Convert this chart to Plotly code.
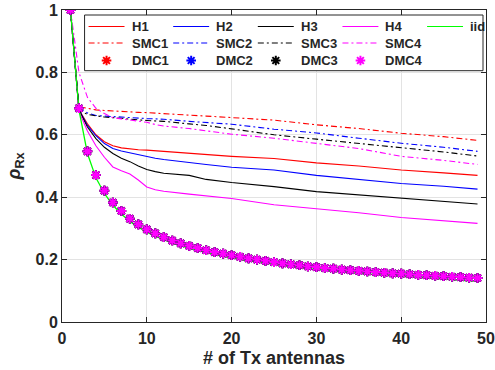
import plotly.graph_objects as go

# ---------------- data ----------------
N_TX = list(range(1, 50))
N_LINE = [1, 2, 3, 4, 5, 6, 7, 8, 9, 10, 11, 12, 15, 17, 20, 25, 30, 35, 40, 45, 49]

H1 = [1.0, 0.68, 0.635, 0.600, 0.578, 0.565, 0.558, 0.554, 0.552, 0.551, 0.549, 0.546, 0.540, 0.536, 0.531, 0.524, 0.510, 0.500, 0.487, 0.478, 0.470]
H2 = [1.0, 0.68, 0.630, 0.597, 0.572, 0.556, 0.548, 0.542, 0.536, 0.530, 0.525, 0.521, 0.510, 0.505, 0.496, 0.487, 0.470, 0.456, 0.444, 0.435, 0.426]
H3 = [1.0, 0.68, 0.625, 0.588, 0.560, 0.540, 0.525, 0.514, 0.500, 0.489, 0.482, 0.477, 0.470, 0.457, 0.447, 0.434, 0.418, 0.408, 0.396, 0.387, 0.378]
H4 = [1.0, 0.675, 0.612, 0.565, 0.528, 0.497, 0.485, 0.474, 0.455, 0.433, 0.424, 0.419, 0.410, 0.405, 0.396, 0.376, 0.364, 0.350, 0.335, 0.325, 0.316]

SMC1 = [1.0, 0.69, 0.685, 0.680, 0.678, 0.676, 0.675, 0.673, 0.672, 0.671, 0.669, 0.667, 0.663, 0.660, 0.656, 0.647, 0.632, 0.620, 0.605, 0.594, 0.582]
SMC2 = [1.0, 0.685, 0.670, 0.662, 0.660, 0.658, 0.657, 0.655, 0.653, 0.652, 0.651, 0.650, 0.643, 0.640, 0.634, 0.618, 0.606, 0.589, 0.573, 0.560, 0.547]
SMC3 = [1.0, 0.68, 0.665, 0.660, 0.657, 0.655, 0.652, 0.650, 0.648, 0.646, 0.645, 0.643, 0.635, 0.630, 0.619, 0.600, 0.586, 0.573, 0.558, 0.545, 0.532]
SMC4 = [1.0, 0.80, 0.720, 0.685, 0.668, 0.655, 0.651, 0.648, 0.644, 0.640, 0.633, 0.628, 0.620, 0.612, 0.602, 0.589, 0.572, 0.556, 0.531, 0.518, 0.505]

DMC = [1.0, 0.685, 0.547, 0.471, 0.421, 0.383, 0.356, 0.331, 0.313, 0.297,
       0.284, 0.272, 0.261, 0.252, 0.244, 0.237, 0.230, 0.224, 0.219, 0.214,
       0.209, 0.204, 0.200, 0.196, 0.192, 0.188, 0.185, 0.182, 0.178, 0.176,
       0.173, 0.171, 0.168, 0.166, 0.164, 0.162, 0.160, 0.158, 0.156, 0.155,
       0.153, 0.151, 0.150, 0.148, 0.147, 0.145, 0.144, 0.142, 0.141]

IID = [1.0, 0.680, 0.540, 0.462, 0.412, 0.374, 0.346, 0.322, 0.304, 0.288,
       0.275, 0.263, 0.253, 0.244, 0.236, 0.229, 0.222, 0.216, 0.210, 0.205,
       0.200, 0.196, 0.192, 0.188, 0.184, 0.181, 0.177, 0.174, 0.171, 0.168,
       0.166, 0.163, 0.161, 0.158, 0.156, 0.154, 0.152, 0.150, 0.148, 0.146,
       0.144, 0.142, 0.140, 0.139, 0.137, 0.135, 0.134, 0.132, 0.131]

X_TICKS = [0, 10, 20, 30, 40, 50]
Y_TICKS = [0, 0.2, 0.4, 0.6, 0.8, 1]
Y_TICK_TEXT = ["0", "0.2", "0.4", "0.6", "0.8", "1"]

# ---------------- styles ----------------
RED, BLUE, BLACK, MAG, GREEN = "#ff0000", "#0000ff", "#000000", "#ff00ff", "#00ff00"
DASHDOT = "6px,3px,2px,3px"
FONT = "Liberation Sans, Arial, Helvetica, sans-serif"
AX = "#262626"

fig = go.Figure()

solid = [("H1", H1, RED), ("H2", H2, BLUE), ("H3", H3, BLACK), ("H4", H4, MAG)]
smc = [("SMC1", SMC1, RED), ("SMC2", SMC2, BLUE), ("SMC3", SMC3, BLACK), ("SMC4", SMC4, MAG)]
dmc = [("DMC1", DMC, RED), ("DMC2", DMC, BLUE), ("DMC3", DMC, BLACK), ("DMC4", DMC, MAG)]

for name, ys, c in solid:
    fig.add_trace(go.Scatter(x=N_LINE, y=ys, mode="lines", name=name,
                             line=dict(color=c, width=1.1), showlegend=False))
for name, ys, c in smc:
    fig.add_trace(go.Scatter(x=N_LINE, y=ys, mode="lines", name=name,
                             line=dict(color=c, width=1.1, dash=DASHDOT), showlegend=False))
fig.add_trace(go.Scatter(x=N_TX, y=IID, mode="lines", name="iid",
                         line=dict(color=GREEN, width=1.3), showlegend=False))
for name, ys, c in dmc:
    fig.add_trace(go.Scatter(x=N_TX, y=ys, mode="markers", name=name,
                             marker=dict(symbol="asterisk-open", size=8, color=c,
                                         line=dict(color=c, width=2)),
                             showlegend=False))

# ---------------- manual legend (pixel-like overlay axes) ----------------
L, R, T, B = 61.7, 486.3, 10.0, 322.0
rows = [26.5, 43.0, 60.5]
col0, colstep, seglen, textgap = 88.3, 84.75, 36.0, 41.0
BOX = (84.3, 483.3, 15.0, 70.7)

# legend frame (white, covers grid lines)
fig.add_trace(go.Scatter(x=[BOX[0], BOX[1], BOX[1], BOX[0], BOX[0]],
                         y=[BOX[2], BOX[2], BOX[3], BOX[3], BOX[2]],
                         mode="lines", fill="toself", fillcolor="white",
                         line=dict(color=AX, width=1), xaxis="x2", yaxis="y2",
                         showlegend=False, hoverinfo="skip"))

legend_rows = [
    [(n, c, "solid") for n, _, c in solid] + [("iid", GREEN, "solid")],
    [(n, c, "dashdot") for n, _, c in smc],
    [(n, c, "marker") for n, _, c in dmc],
]
annotations = []
for r, items in enumerate(legend_rows):
    yy = rows[r]
    for i, (name, c, kind) in enumerate(items):
        x0 = col0 + colstep * i
        if kind == "marker":
            fig.add_trace(go.Scatter(x=[x0 + seglen / 2], y=[yy], mode="markers",
                                     xaxis="x2", yaxis="y2", showlegend=False, hoverinfo="skip",
                                     marker=dict(symbol="asterisk-open", size=8, color=c,
                                                 line=dict(color=c, width=2))))
        else:
            fig.add_trace(go.Scatter(x=[x0, x0 + seglen], y=[yy, yy], mode="lines",
                                     xaxis="x2", yaxis="y2", showlegend=False, hoverinfo="skip",
                                     line=dict(color=c, width=1.1,
                                               dash=DASHDOT if kind == "dashdot" else "solid")))
        annotations.append(dict(x=x0 + textgap, y=yy, xref="x2", yref="y2", text=name,
                                showarrow=False, xanchor="left", yanchor="middle",
                                font=dict(family=FONT, size=13, color=AX, weight="bold")))

axis_common = dict(showline=True, linecolor=AX, linewidth=1, mirror="allticks",
                   ticks="inside", ticklen=5, tickcolor=AX, showgrid=True,
                   gridcolor="#e3e3e3", gridwidth=1, zeroline=False, automargin=False,
                   tickfont=dict(family=FONT, size=16, color=AX, weight="bold"))

fig.update_layout(
    width=495, height=370,
    margin=dict(l=L, r=495 - R, t=T, b=370 - B, pad=0, autoexpand=False),
    paper_bgcolor="white", plot_bgcolor="white",
    xaxis=dict(range=[0, 50], tickvals=X_TICKS, ticklabelstandoff=2, **axis_common,
               title=dict(text="# of Tx antennas", standoff=5,
                          font=dict(family=FONT, size=18, color=AX, weight="bold"))),
    yaxis=dict(range=[0, 1], tickvals=Y_TICKS, ticktext=Y_TICK_TEXT, **axis_common,
               title=dict(text="<i>ρ</i><sub>Rx</sub>", standoff=10,
                          font=dict(family=FONT, size=18, color=AX, weight="bold"))),
    xaxis2=dict(range=[L, R], overlaying="x", visible=False, anchor="y2", fixedrange=True),
    yaxis2=dict(range=[B, T], overlaying="y", visible=False, anchor="x2", fixedrange=True),
    annotations=annotations, showlegend=False,
)

fig.write_html("out.html", config={"displayModeBar": False},
               post_script="document.body.style.margin='0';")
